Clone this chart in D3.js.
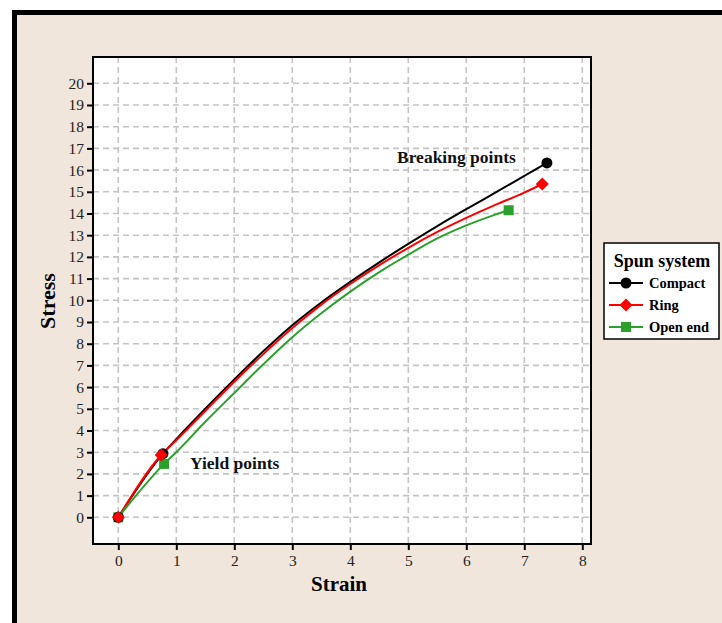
<!DOCTYPE html>
<html>
<head>
<meta charset="utf-8">
<script src="https://cdn.jsdelivr.net/npm/d3@7"></script>
<style>
  body { margin: 0; background: #ffffff; }
  svg { display: block; }
  text { font-family: "Liberation Serif", "DejaVu Serif", serif; }
</style>
</head>
<body>
<div id="chart"></div>
<script>
// data
let xTicks = [0, 1, 2, 3, 4, 5, 6, 7, 8]
let yTicks = d3.range(0, 21)

let compactStrain = [0, 0.77, 1, 1.5, 2, 2.5, 3, 3.5, 4, 4.5, 5, 5.5, 6, 6.5, 7, 7.39]
let compactStress = [0, 2.93, 3.6, 5.0, 6.35, 7.65, 8.85, 9.9, 10.85, 11.75, 12.6, 13.42, 14.2, 14.96, 15.73, 16.33]

let ringStrain = [0, 0.74, 1, 1.5, 2, 2.5, 3, 3.5, 4, 4.5, 5, 5.5, 6, 6.5, 7, 7.31]
let ringStress = [0, 2.87, 3.55, 4.9, 6.25, 7.52, 8.72, 9.8, 10.75, 11.62, 12.42, 13.15, 13.8, 14.4, 14.96, 15.36]

let openStrain = [0, 0.79, 1, 1.5, 2, 2.5, 3, 3.5, 4, 4.5, 5, 5.5, 6, 6.5, 6.73]
let openStress = [0, 2.46, 3.0, 4.4, 5.73, 7.05, 8.3, 9.4, 10.4, 11.3, 12.1, 12.85, 13.45, 13.95, 14.15]

let seriesNames = ["Compact", "Ring", "Open end"]
let seriesColors = ["#000000", "#ff0000", "#2ca02c"]
let seriesSymbols = [d3.symbolCircle, d3.symbolSquare, d3.symbolSquare]
let seriesRotate = [0, 45, 0]

let width = 722, height = 623
let plot = { left: 93, top: 57, right: 591, bottom: 544 }

let svg = d3.select("#chart").append("svg")
    .attr("width", width)
    .attr("height", height)

// frame of the figure
svg.append("rect").attr("x", 12).attr("y", 10).attr("width", width).attr("height", height).attr("fill", "#000")
svg.append("rect").attr("x", 17).attr("y", 15).attr("width", width).attr("height", height).attr("fill", "#f0e6dc")

let x = d3.scaleLinear().domain([0, 8]).range([118.3, 582.3])
let y = d3.scaleLinear().domain([0, 20]).range([517.3, 83.3])

svg.append("rect")
    .attr("x", plot.left).attr("y", plot.top)
    .attr("width", plot.right - plot.left).attr("height", plot.bottom - plot.top)
    .attr("fill", "#fff")

// grid
svg.selectAll(".vgrid").data(xTicks).enter().append("line")
    .attr("class", "vgrid")
    .attr("x1", d => x(d)).attr("x2", d => x(d))
    .attr("y1", plot.top).attr("y2", plot.bottom)
    .attr("stroke", "#c4c4c4").attr("stroke-width", 1.6).attr("stroke-dasharray", "6,4")
svg.selectAll(".hgrid").data(yTicks).enter().append("line")
    .attr("class", "hgrid")
    .attr("y1", d => y(d)).attr("y2", d => y(d))
    .attr("x1", plot.left).attr("x2", plot.right)
    .attr("stroke", "#c4c4c4").attr("stroke-width", 1.6).attr("stroke-dasharray", "6,4")

// axes
let xAxis = svg.append("g")
    .attr("transform", "translate(0," + plot.bottom + ")")
    .call(d3.axisBottom(x).tickValues(xTicks).tickSize(6).tickSizeOuter(0).tickPadding(5))
let yAxis = svg.append("g")
    .attr("transform", "translate(" + plot.left + ",0)")
    .call(d3.axisLeft(y).tickValues(yTicks).tickSize(6).tickSizeOuter(0).tickPadding(3))
xAxis.select(".domain").remove()
yAxis.select(".domain").remove()
svg.selectAll(".tick line").attr("stroke", "#000").attr("stroke-width", 2)
svg.selectAll(".tick text")
    .style("font-family", "'Liberation Serif', serif")
    .style("font-size", "15.5px")
    .attr("fill", "#222")

svg.append("rect")
    .attr("x", plot.left).attr("y", plot.top)
    .attr("width", plot.right - plot.left).attr("height", plot.bottom - plot.top)
    .attr("fill", "none").attr("stroke", "#000").attr("stroke-width", 2)

// series
let series = [
    { strain: compactStrain, stress: compactStress },
    { strain: ringStrain, stress: ringStress },
    { strain: openStrain, stress: openStress }
]
let line = d3.line()
    .x(d => x(d[0]))
    .y(d => y(d[1]))
    .curve(d3.curveMonotoneX)

series.forEach(function (s, i) {
    let pts = s.strain.map((v, j) => [v, s.stress[j]])
    svg.append("path")
        .datum(pts)
        .attr("d", line)
        .attr("fill", "none")
        .attr("stroke", seriesColors[i])
        .attr("stroke-width", 2)
})

// markers at origin, yield and break; green first, then black, red on top
let symbolSize = [95, 85, 100]
let drawOrder = [2, 0, 1]
drawOrder.forEach(function (i) {
    let s = series[i]
    let n = s.strain.length
    let marks = [0, 1, n - 1].map(j => [s.strain[j], s.stress[j]])
    svg.selectAll(".mark" + i).data(marks).enter().append("path")
        .attr("class", "mark" + i)
        .attr("transform", d => "translate(" + x(d[0]) + "," + y(d[1]) + ") rotate(" + seriesRotate[i] + ")")
        .attr("d", d3.symbol().type(seriesSymbols[i]).size(symbolSize[i]))
        .attr("fill", seriesColors[i])
})

// annotations
svg.append("text")
    .attr("x", 397).attr("y", 163)
    .style("font-size", "17.5px").style("font-weight", "bold")
    .attr("fill", "#111")
    .text("Breaking points")
svg.append("text")
    .attr("x", 190).attr("y", 469)
    .style("font-size", "17.5px").style("font-weight", "bold")
    .attr("fill", "#111")
    .text("Yield points")

// axis titles
svg.append("text")
    .attr("x", 339).attr("y", 591)
    .attr("text-anchor", "middle")
    .style("font-size", "21px").style("font-weight", "bold")
    .text("Strain")
svg.append("text")
    .attr("transform", "translate(55,301) rotate(-90)")
    .attr("text-anchor", "middle")
    .style("font-size", "22px").style("font-weight", "bold")
    .text("Stress")

// legend
let legend = svg.append("g").attr("transform", "translate(604,243)")
legend.append("rect")
    .attr("width", 115).attr("height", 96)
    .attr("fill", "#fff").attr("stroke", "#000").attr("stroke-width", 1.5)
legend.append("text")
    .attr("x", 58).attr("y", 24)
    .attr("text-anchor", "middle")
    .style("font-size", "18px").style("font-weight", "bold")
    .text("Spun system")
seriesNames.forEach(function (name, i) {
    let cy = 40 + i * 22
    legend.append("line")
        .attr("x1", 5).attr("x2", 39).attr("y1", cy).attr("y2", cy)
        .attr("stroke", seriesColors[i]).attr("stroke-width", 2)
    legend.append("path")
        .attr("transform", "translate(22," + cy + ") rotate(" + seriesRotate[i] + ")")
        .attr("d", d3.symbol().type(seriesSymbols[i]).size(symbolSize[i]))
        .attr("fill", seriesColors[i])
    legend.append("text")
        .attr("x", 45).attr("y", cy + 4.5)
        .style("font-size", "14.5px").style("font-weight", "bold")
        .text(name)
})
</script>
</body>
</html>
